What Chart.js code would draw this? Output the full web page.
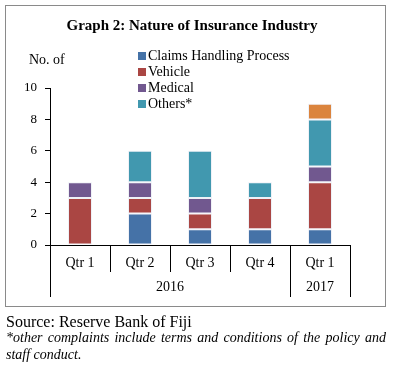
<!DOCTYPE html>
<html>
<head>
<meta charset="utf-8">
<script src="https://cdn.jsdelivr.net/npm/chart.js@4"></script>
<style>
  body { margin: 0; width: 393px; height: 366px; background: #fff; font-family: "Liberation Serif", "Times New Roman", serif; color: #000; position: relative; overflow: hidden; }
  #wrap { position: absolute; left: 0; top: 0; width: 393px; height: 310px; }
  #frame { position: absolute; left: 5px; top: 5px; width: 381px; height: 302px; box-sizing: border-box; border: 1px solid #8a8a8a; pointer-events: none; }
  #title { position: absolute; left: 0; width: 384px; top: 15px; text-align: center; font-weight: bold; font-size: 15px; line-height: 20px; }
  #unit { position: absolute; left: 29px; top: 51px; font-size: 14px; line-height: 18px; }
  #legend { position: absolute; left: 138px; top: 48px; font-size: 14px; }
  .item { height: 16px; line-height: 16px; white-space: nowrap; }
  .sw { display: inline-block; width: 8px; height: 8px; margin-right: 2px; vertical-align: 0px; }
  #source { position: absolute; left: 6px; top: 313px; font-size: 16px; line-height: 18px; }
  #note { position: absolute; left: 6px; top: 329px; width: 380px; font-size: 14px; line-height: 17px; font-style: italic; text-align: justify; text-align-last: left; }
</style>
</head>
<body>
<div id="wrap"><canvas id="bar-chart" width="393" height="310"></canvas></div>
<div id="frame"></div>
<div id="title">Graph 2: Nature of Insurance Industry</div>
<div id="unit">No. of</div>
<div id="legend"></div>
<div id="source">Source: Reserve Bank of Fiji</div>
<div id="note">*other complaints include terms and conditions of the policy and staff conduct.</div>
<script>
const quarters = ["Qtr 1", "Qtr 2", "Qtr 3", "Qtr 4", "Qtr 1"];
const years = ["2016", "2016", "2016", "2016", "2017"];
const yTicks = [0, 2, 4, 6, 8, 10];

const claims = [0, 2, 1, 1, 1];
const vehicle = [3, 1, 1, 2, 3];
const medical = [1, 1, 1, 0, 1];
const others = [0, 2, 3, 1, 3];
const unlabelled = [0, 0, 0, 0, 1];

const names = ["Claims Handling Process", "Vehicle", "Medical", "Others*", ""];
const colors = ['#4572A7', '#AA4643', '#71588F', '#4198AF', '#DB843D'];
const series = [claims, vehicle, medical, others, unlabelled];

// legend as html (only the 4 named series)
let legend = document.getElementById("legend");
for (var i = 0; i < 4; i++) {
    let d = document.createElement("div");
    d.className = "item";
    d.innerHTML = '<span class="sw" style="background:' + colors[i] + '"></span>' + names[i];
    legend.appendChild(d);
}

const yearRow = {
    id: 'yearRow',
    afterDraw(chart) {
        const ctx = chart.ctx;
        const x = chart.scales.x;
        const area = chart.chartArea;
        const n = quarters.length;
        const step = (area.right - area.left) / n;
        ctx.save();
        ctx.strokeStyle = '#000';
        ctx.lineWidth = 1;
        // separators
        for (let i = 0; i <= n; i++) {
            const px = Math.round(area.left + i * step) + 0.5;
            const full = i == 0 || i == n || years[i] != years[i - 1];
            ctx.beginPath();
            ctx.moveTo(px, area.bottom);
            ctx.lineTo(px, area.bottom + (full ? 52 : 27));
            ctx.stroke();
        }
        // year labels
        ctx.fillStyle = '#000';
        ctx.font = '14px "Liberation Serif", serif';
        ctx.textAlign = 'center';
        ctx.textBaseline = 'middle';
        let start = 0;
        for (let i = 1; i <= n; i++) {
            if (i == n || years[i] != years[start]) {
                const cx = (x.getPixelForValue(start) + x.getPixelForValue(i - 1)) / 2;
                ctx.fillText(years[start], cx, area.bottom + 42);
                start = i;
            }
        }
        ctx.restore();
    }
};

new Chart(document.getElementById("bar-chart"), {
    type: 'bar',
    data: {
        labels: quarters,
        datasets: series.map((s, i) => ({
            label: names[i],
            data: s,
            backgroundColor: colors[i],
            borderColor: 'rgba(225,230,240,0.55)',
            borderWidth: 1,
            borderSkipped: false,
            categoryPercentage: 1,
            barPercentage: 0.4
        }))
    },
    options: {
        responsive: false,
        animation: false,
        devicePixelRatio: 1,
        layout: { padding: { left: 0, right: 43, top: 88, bottom: 0 } },
        plugins: {
            legend: { display: false },
            title: { display: false },
            tooltip: { enabled: false }
        },
        scales: {
            x: {
                stacked: true,
                grid: { display: false, drawTicks: false },
                border: { display: true, color: '#000', width: 1 },
                ticks: {
                    color: '#000',
                    padding: 10,
                    font: { family: '"Liberation Serif", serif', size: 14 }
                },
                afterFit: function (scale) { scale.height = 65; }
            },
            y: {
                stacked: true,
                min: 0,
                max: 10,
                afterBuildTicks: function (scale) { scale.ticks = yTicks.map(v => ({ value: v })); },
                grid: { drawOnChartArea: false, tickLength: 5, color: '#000' },
                border: { display: true, color: '#000', width: 1 },
                ticks: {
                    color: '#000',
                    padding: 8,
                    font: { family: '"Liberation Serif", serif', size: 13 }
                },
                afterFit: function (scale) { scale.width = 50; }
            }
        }
    },
    plugins: [yearRow]
});
</script>
</body>
</html>
